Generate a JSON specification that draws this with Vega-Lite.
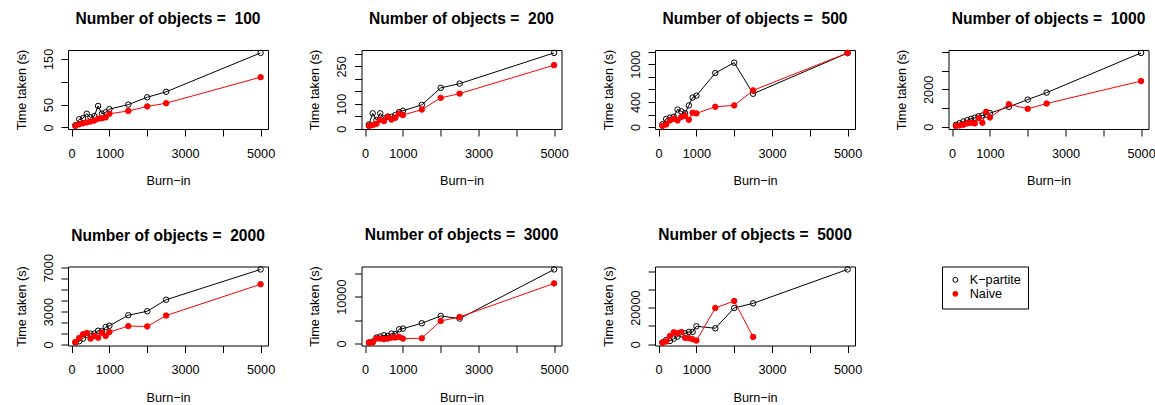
{
  "$schema": "https://vega.github.io/schema/vega-lite/v6.json",
  "autosize": {"type": "pad"},
  "padding": {"left": 14, "top": 11, "right": 0, "bottom": 0},
  "background": "white",
  "datasets": {
    "d": [
      {"objects":100,"burnin":100,"method":"K−partite","time":5},
      {"objects":100,"burnin":200,"method":"K−partite","time":18},
      {"objects":100,"burnin":300,"method":"K−partite","time":20},
      {"objects":100,"burnin":400,"method":"K−partite","time":30},
      {"objects":100,"burnin":500,"method":"K−partite","time":22},
      {"objects":100,"burnin":600,"method":"K−partite","time":25},
      {"objects":100,"burnin":700,"method":"K−partite","time":47},
      {"objects":100,"burnin":800,"method":"K−partite","time":30},
      {"objects":100,"burnin":900,"method":"K−partite","time":33},
      {"objects":100,"burnin":1000,"method":"K−partite","time":40},
      {"objects":100,"burnin":1500,"method":"K−partite","time":50},
      {"objects":100,"burnin":2000,"method":"K−partite","time":66},
      {"objects":100,"burnin":2500,"method":"K−partite","time":78},
      {"objects":100,"burnin":5000,"method":"K−partite","time":163},
      {"objects":100,"burnin":100,"method":"Naive","time":3},
      {"objects":100,"burnin":200,"method":"Naive","time":7},
      {"objects":100,"burnin":300,"method":"Naive","time":9},
      {"objects":100,"burnin":400,"method":"Naive","time":11},
      {"objects":100,"burnin":500,"method":"Naive","time":13},
      {"objects":100,"burnin":600,"method":"Naive","time":15},
      {"objects":100,"burnin":700,"method":"Naive","time":19},
      {"objects":100,"burnin":800,"method":"Naive","time":20},
      {"objects":100,"burnin":900,"method":"Naive","time":22},
      {"objects":100,"burnin":1000,"method":"Naive","time":30},
      {"objects":100,"burnin":1500,"method":"Naive","time":36},
      {"objects":100,"burnin":2000,"method":"Naive","time":46},
      {"objects":100,"burnin":2500,"method":"Naive","time":53},
      {"objects":100,"burnin":5000,"method":"Naive","time":110},

      {"objects":200,"burnin":100,"method":"K−partite","time":17},
      {"objects":200,"burnin":200,"method":"K−partite","time":62},
      {"objects":200,"burnin":300,"method":"K−partite","time":35},
      {"objects":200,"burnin":400,"method":"K−partite","time":62},
      {"objects":200,"burnin":500,"method":"K−partite","time":42},
      {"objects":200,"burnin":600,"method":"K−partite","time":48},
      {"objects":200,"burnin":700,"method":"K−partite","time":48},
      {"objects":200,"burnin":800,"method":"K−partite","time":55},
      {"objects":200,"burnin":900,"method":"K−partite","time":67},
      {"objects":200,"burnin":1000,"method":"K−partite","time":72},
      {"objects":200,"burnin":1500,"method":"K−partite","time":96},
      {"objects":200,"burnin":2000,"method":"K−partite","time":164},
      {"objects":200,"burnin":2500,"method":"K−partite","time":181},
      {"objects":200,"burnin":5000,"method":"K−partite","time":304},
      {"objects":200,"burnin":100,"method":"Naive","time":11},
      {"objects":200,"burnin":200,"method":"Naive","time":15},
      {"objects":200,"burnin":300,"method":"Naive","time":20},
      {"objects":200,"burnin":400,"method":"Naive","time":36},
      {"objects":200,"burnin":500,"method":"Naive","time":31},
      {"objects":200,"burnin":600,"method":"Naive","time":49},
      {"objects":200,"burnin":700,"method":"Naive","time":37},
      {"objects":200,"burnin":800,"method":"Naive","time":44},
      {"objects":200,"burnin":900,"method":"Naive","time":61},
      {"objects":200,"burnin":1000,"method":"Naive","time":55},
      {"objects":200,"burnin":1500,"method":"Naive","time":77},
      {"objects":200,"burnin":2000,"method":"Naive","time":124},
      {"objects":200,"burnin":2500,"method":"Naive","time":141},
      {"objects":200,"burnin":5000,"method":"Naive","time":255},

      {"objects":500,"burnin":100,"method":"K−partite","time":45},
      {"objects":500,"burnin":200,"method":"K−partite","time":130},
      {"objects":500,"burnin":300,"method":"K−partite","time":150},
      {"objects":500,"burnin":400,"method":"K−partite","time":165},
      {"objects":500,"burnin":500,"method":"K−partite","time":280},
      {"objects":500,"burnin":600,"method":"K−partite","time":250},
      {"objects":500,"burnin":700,"method":"K−partite","time":220},
      {"objects":500,"burnin":800,"method":"K−partite","time":345},
      {"objects":500,"burnin":900,"method":"K−partite","time":470},
      {"objects":500,"burnin":1000,"method":"K−partite","time":500},
      {"objects":500,"burnin":1500,"method":"K−partite","time":860},
      {"objects":500,"burnin":2000,"method":"K−partite","time":1025},
      {"objects":500,"burnin":2500,"method":"K−partite","time":530},
      {"objects":500,"burnin":5000,"method":"K−partite","time":1178},
      {"objects":500,"burnin":100,"method":"Naive","time":16},
      {"objects":500,"burnin":200,"method":"Naive","time":42},
      {"objects":500,"burnin":300,"method":"Naive","time":106},
      {"objects":500,"burnin":400,"method":"Naive","time":133},
      {"objects":500,"burnin":500,"method":"Naive","time":106},
      {"objects":500,"burnin":600,"method":"Naive","time":160},
      {"objects":500,"burnin":700,"method":"Naive","time":180},
      {"objects":500,"burnin":800,"method":"Naive","time":117},
      {"objects":500,"burnin":900,"method":"Naive","time":228},
      {"objects":500,"burnin":1000,"method":"Naive","time":218},
      {"objects":500,"burnin":1500,"method":"Naive","time":324},
      {"objects":500,"burnin":2000,"method":"Naive","time":345},
      {"objects":500,"burnin":2500,"method":"Naive","time":584},
      {"objects":500,"burnin":5000,"method":"Naive","time":1180},

      {"objects":1000,"burnin":100,"method":"K−partite","time":100},
      {"objects":1000,"burnin":200,"method":"K−partite","time":190},
      {"objects":1000,"burnin":300,"method":"K−partite","time":280},
      {"objects":1000,"burnin":400,"method":"K−partite","time":350},
      {"objects":1000,"burnin":500,"method":"K−partite","time":420},
      {"objects":1000,"burnin":600,"method":"K−partite","time":480},
      {"objects":1000,"burnin":700,"method":"K−partite","time":560},
      {"objects":1000,"burnin":800,"method":"K−partite","time":600},
      {"objects":1000,"burnin":900,"method":"K−partite","time":650},
      {"objects":1000,"burnin":1000,"method":"K−partite","time":726},
      {"objects":1000,"burnin":1500,"method":"K−partite","time":1062},
      {"objects":1000,"burnin":2000,"method":"K−partite","time":1451},
      {"objects":1000,"burnin":2500,"method":"K−partite","time":1823},
      {"objects":1000,"burnin":5000,"method":"K−partite","time":3947},
      {"objects":1000,"burnin":100,"method":"Naive","time":35},
      {"objects":1000,"burnin":200,"method":"Naive","time":71},
      {"objects":1000,"burnin":300,"method":"Naive","time":106},
      {"objects":1000,"burnin":400,"method":"Naive","time":177},
      {"objects":1000,"burnin":500,"method":"Naive","time":212},
      {"objects":1000,"burnin":600,"method":"Naive","time":177},
      {"objects":1000,"burnin":700,"method":"Naive","time":460},
      {"objects":1000,"burnin":800,"method":"Naive","time":212},
      {"objects":1000,"burnin":900,"method":"Naive","time":796},
      {"objects":1000,"burnin":1000,"method":"Naive","time":496},
      {"objects":1000,"burnin":1500,"method":"Naive","time":1204},
      {"objects":1000,"burnin":2000,"method":"Naive","time":956},
      {"objects":1000,"burnin":2500,"method":"Naive","time":1239},
      {"objects":1000,"burnin":5000,"method":"Naive","time":2442},

      {"objects":2000,"burnin":100,"method":"K−partite","time":180},
      {"objects":2000,"burnin":200,"method":"K−partite","time":300},
      {"objects":2000,"burnin":300,"method":"K−partite","time":540},
      {"objects":2000,"burnin":400,"method":"K−partite","time":900},
      {"objects":2000,"burnin":500,"method":"K−partite","time":990},
      {"objects":2000,"burnin":600,"method":"K−partite","time":1000},
      {"objects":2000,"burnin":700,"method":"K−partite","time":1260},
      {"objects":2000,"burnin":800,"method":"K−partite","time":1200},
      {"objects":2000,"burnin":900,"method":"K−partite","time":1590},
      {"objects":2000,"burnin":1000,"method":"K−partite","time":1710},
      {"objects":2000,"burnin":1500,"method":"K−partite","time":2670},
      {"objects":2000,"burnin":2000,"method":"K−partite","time":3030},
      {"objects":2000,"burnin":2500,"method":"K−partite","time":4080},
      {"objects":2000,"burnin":5000,"method":"K−partite","time":6840},
      {"objects":2000,"burnin":100,"method":"Naive","time":240},
      {"objects":2000,"burnin":200,"method":"Naive","time":600},
      {"objects":2000,"burnin":300,"method":"Naive","time":930},
      {"objects":2000,"burnin":400,"method":"Naive","time":1050},
      {"objects":2000,"burnin":500,"method":"Naive","time":540},
      {"objects":2000,"burnin":600,"method":"Naive","time":780},
      {"objects":2000,"burnin":700,"method":"Naive","time":630},
      {"objects":2000,"burnin":800,"method":"Naive","time":1080},
      {"objects":2000,"burnin":900,"method":"Naive","time":780},
      {"objects":2000,"burnin":1000,"method":"Naive","time":1140},
      {"objects":2000,"burnin":1500,"method":"Naive","time":1680},
      {"objects":2000,"burnin":2000,"method":"Naive","time":1650},
      {"objects":2000,"burnin":2500,"method":"Naive","time":2640},
      {"objects":2000,"burnin":5000,"method":"Naive","time":5490},

      {"objects":3000,"burnin":100,"method":"K−partite","time":210},
      {"objects":3000,"burnin":200,"method":"K−partite","time":430},
      {"objects":3000,"burnin":300,"method":"K−partite","time":1280},
      {"objects":3000,"burnin":400,"method":"K−partite","time":1490},
      {"objects":3000,"burnin":500,"method":"K−partite","time":1770},
      {"objects":3000,"burnin":600,"method":"K−partite","time":1630},
      {"objects":3000,"burnin":700,"method":"K−partite","time":2130},
      {"objects":3000,"burnin":800,"method":"K−partite","time":1990},
      {"objects":3000,"burnin":900,"method":"K−partite","time":3050},
      {"objects":3000,"burnin":1000,"method":"K−partite","time":3190},
      {"objects":3000,"burnin":1500,"method":"K−partite","time":4330},
      {"objects":3000,"burnin":2000,"method":"K−partite","time":5890},
      {"objects":3000,"burnin":2500,"method":"K−partite","time":5320},
      {"objects":3000,"burnin":5000,"method":"K−partite","time":15820},
      {"objects":3000,"burnin":100,"method":"Naive","time":210},
      {"objects":3000,"burnin":200,"method":"Naive","time":210},
      {"objects":3000,"burnin":300,"method":"Naive","time":1060},
      {"objects":3000,"burnin":400,"method":"Naive","time":1060},
      {"objects":3000,"burnin":500,"method":"Naive","time":920},
      {"objects":3000,"burnin":600,"method":"Naive","time":1060},
      {"objects":3000,"burnin":700,"method":"Naive","time":1280},
      {"objects":3000,"burnin":800,"method":"Naive","time":1280},
      {"objects":3000,"burnin":900,"method":"Naive","time":1420},
      {"objects":3000,"burnin":1000,"method":"Naive","time":1060},
      {"objects":3000,"burnin":1500,"method":"Naive","time":1130},
      {"objects":3000,"burnin":2000,"method":"Naive","time":4820},
      {"objects":3000,"burnin":2500,"method":"Naive","time":5670},
      {"objects":3000,"burnin":5000,"method":"Naive","time":12840},

      {"objects":5000,"burnin":100,"method":"K−partite","time":910},
      {"objects":5000,"burnin":200,"method":"K−partite","time":2360},
      {"objects":5000,"burnin":300,"method":"K−partite","time":1820},
      {"objects":5000,"burnin":400,"method":"K−partite","time":3090},
      {"objects":5000,"burnin":500,"method":"K−partite","time":4180},
      {"objects":5000,"burnin":600,"method":"K−partite","time":5450},
      {"objects":5000,"burnin":700,"method":"K−partite","time":6000},
      {"objects":5000,"burnin":800,"method":"K−partite","time":6730},
      {"objects":5000,"burnin":900,"method":"K−partite","time":6730},
      {"objects":5000,"burnin":1000,"method":"K−partite","time":9820},
      {"objects":5000,"burnin":1500,"method":"K−partite","time":8730},
      {"objects":5000,"burnin":2000,"method":"K−partite","time":19820},
      {"objects":5000,"burnin":2500,"method":"K−partite","time":22360},
      {"objects":5000,"burnin":5000,"method":"K−partite","time":40900},
      {"objects":5000,"burnin":100,"method":"Naive","time":900},
      {"objects":5000,"burnin":200,"method":"Naive","time":1500},
      {"objects":5000,"burnin":300,"method":"Naive","time":4500},
      {"objects":5000,"burnin":400,"method":"Naive","time":6500},
      {"objects":5000,"burnin":500,"method":"Naive","time":6000},
      {"objects":5000,"burnin":600,"method":"Naive","time":6700},
      {"objects":5000,"burnin":700,"method":"Naive","time":3500},
      {"objects":5000,"burnin":800,"method":"Naive","time":3300},
      {"objects":5000,"burnin":900,"method":"Naive","time":2700},
      {"objects":5000,"burnin":1000,"method":"Naive","time":2000},
      {"objects":5000,"burnin":1500,"method":"Naive","time":19820},
      {"objects":5000,"burnin":2000,"method":"Naive","time":23640},
      {"objects":5000,"burnin":2500,"method":"Naive","time":4000}
    ]
  },
  "columns": 4,
  "bounds": "flush",
  "spacing": {"row": 137.5, "column": 93.5},
  "resolve": {"legend": {"stroke": "independent", "fill": "independent"}},
  "config": {
    "font": "Liberation Sans",
    "view": {"stroke": "black", "strokeWidth": 1},
    "axis": {
      "domain": false, "grid": false, "tickColor": "black", "tickSize": 7, "tickWidth": 1,
      "labelFont": "Liberation Sans", "labelFontSize": 12.7, "labelColor": "black",
      "labelOverlap": false, "labelFlush": false,
      "titleFont": "Liberation Sans", "titleFontSize": 12.7, "titleFontWeight": "normal", "titleColor": "black"
    },
    "axisX": {"labelPadding": 11, "labelBaseline": "top", "titlePadding": 15},
    "axisY": {"labelAngle": 270, "labelAlign": "center", "labelBaseline": "alphabetic", "labelPadding": 9, "titlePadding": 14},
    "title": {"font": "Liberation Sans", "fontSize": 15.6, "fontWeight": "bold", "color": "black", "anchor": "middle", "frame": "group", "offset": 21},
    "legend": {
      "strokeColor": "black", "padding": 7, "labelFont": "Liberation Sans", "labelFontSize": 12.7, "labelColor": "black",
      "symbolSize": 24, "symbolStrokeWidth": 1, "symbolType": "circle", "rowPadding": 0, "labelOffset": 8
    }
  },
  "concat": [
    {
      "width": 200, "height": 79,
      "title": "Number of objects = \u00a0100",
      "data": {"name": "d"},
      "transform": [{"filter": "datum.objects == 100"}],
      "encoding": {
        "x": {"field": "burnin", "type": "quantitative", "title": "Burn−in", "scale": {"domain": [-96, 5196], "nice": false, "zero": false}, "axis": {"values": [0,1000,2000,3000,4000,5000], "format": "d", "labelExpr": "datum.value == 2000 || datum.value == 4000 ? '' : datum.label"}},
        "y": {"field": "time", "type": "quantitative", "title": "Time taken (s)", "scale": {"domain": [-3.4, 169.4], "nice": false, "zero": false}, "axis": {"values": [0,50,100,150], "format": "d", "labelExpr": "indexof([0,50,150], datum.value) >= 0 ? datum.label : ''"}}
      },
      "layer": [
        {"mark": {"type": "line", "strokeWidth": 1}, "encoding": {"color": {"field": "method", "type": "nominal", "scale": {"domain": ["K−partite", "Naive"], "range": ["black", "red"]}, "legend": null}}},
        {"mark": {"type": "point", "strokeWidth": 1, "opacity": 1}, "encoding": {
          "stroke": {"field": "method", "type": "nominal", "scale": {"domain": ["K−partite", "Naive"], "range": ["black", "red"]}, "legend": null},
          "fill": {"field": "method", "type": "nominal", "scale": {"domain": ["K−partite", "Naive"], "range": ["transparent", "red"]}, "legend": null}}}
      ]
    },
    {
      "width": 200, "height": 79,
      "title": "Number of objects = \u00a0200",
      "data": {"name": "d"},
      "transform": [{"filter": "datum.objects == 200"}],
      "encoding": {
        "x": {"field": "burnin", "type": "quantitative", "title": "Burn−in", "scale": {"domain": [-96, 5196], "nice": false, "zero": false}, "axis": {"values": [0,1000,2000,3000,4000,5000], "format": "d", "labelExpr": "datum.value == 2000 || datum.value == 4000 ? '' : datum.label"}},
        "y": {"field": "time", "type": "quantitative", "title": "Time taken (s)", "scale": {"domain": [-0.7, 315.7], "nice": false, "zero": false}, "axis": {"values": [0,50,100,150,200,250,300], "format": "d", "labelExpr": "indexof([0,100,250], datum.value) >= 0 ? datum.label : ''"}}
      },
      "layer": [
        {"mark": {"type": "line", "strokeWidth": 1}, "encoding": {"color": {"field": "method", "type": "nominal", "scale": {"domain": ["K−partite", "Naive"], "range": ["black", "red"]}, "legend": null}}},
        {"mark": {"type": "point", "strokeWidth": 1, "opacity": 1}, "encoding": {
          "stroke": {"field": "method", "type": "nominal", "scale": {"domain": ["K−partite", "Naive"], "range": ["black", "red"]}, "legend": null},
          "fill": {"field": "method", "type": "nominal", "scale": {"domain": ["K−partite", "Naive"], "range": ["transparent", "red"]}, "legend": null}}}
      ]
    },
    {
      "width": 200, "height": 79,
      "title": "Number of objects = \u00a0500",
      "data": {"name": "d"},
      "transform": [{"filter": "datum.objects == 500"}],
      "encoding": {
        "x": {"field": "burnin", "type": "quantitative", "title": "Burn−in", "scale": {"domain": [-96, 5196], "nice": false, "zero": false}, "axis": {"values": [0,1000,2000,3000,4000,5000], "format": "d", "labelExpr": "datum.value == 2000 || datum.value == 4000 ? '' : datum.label"}},
        "y": {"field": "time", "type": "quantitative", "title": "Time taken (s)", "scale": {"domain": [-30.6, 1226.6], "nice": false, "zero": false}, "axis": {"values": [0,200,400,600,800,1000,1200], "format": "d", "labelExpr": "indexof([0,400,1000], datum.value) >= 0 ? datum.label : ''"}}
      },
      "layer": [
        {"mark": {"type": "line", "strokeWidth": 1}, "encoding": {"color": {"field": "method", "type": "nominal", "scale": {"domain": ["K−partite", "Naive"], "range": ["black", "red"]}, "legend": null}}},
        {"mark": {"type": "point", "strokeWidth": 1, "opacity": 1}, "encoding": {
          "stroke": {"field": "method", "type": "nominal", "scale": {"domain": ["K−partite", "Naive"], "range": ["black", "red"]}, "legend": null},
          "fill": {"field": "method", "type": "nominal", "scale": {"domain": ["K−partite", "Naive"], "range": ["transparent", "red"]}, "legend": null}}}
      ]
    },
    {
      "width": 200, "height": 79,
      "title": "Number of objects = \u00a01000",
      "data": {"name": "d"},
      "transform": [{"filter": "datum.objects == 1000"}],
      "encoding": {
        "x": {"field": "burnin", "type": "quantitative", "title": "Burn−in", "scale": {"domain": [-96, 5196], "nice": false, "zero": false}, "axis": {"values": [0,1000,2000,3000,4000,5000], "format": "d", "labelExpr": "datum.value == 2000 || datum.value == 4000 ? '' : datum.label"}},
        "y": {"field": "time", "type": "quantitative", "title": "Time taken (s)", "scale": {"domain": [-121.5, 4103.5], "nice": false, "zero": false}, "axis": {"values": [0,1000,2000,3000,4000], "format": "d", "labelExpr": "indexof([0,2000], datum.value) >= 0 ? datum.label : ''"}}
      },
      "layer": [
        {"mark": {"type": "line", "strokeWidth": 1}, "encoding": {"color": {"field": "method", "type": "nominal", "scale": {"domain": ["K−partite", "Naive"], "range": ["black", "red"]}, "legend": null}}},
        {"mark": {"type": "point", "strokeWidth": 1, "opacity": 1}, "encoding": {
          "stroke": {"field": "method", "type": "nominal", "scale": {"domain": ["K−partite", "Naive"], "range": ["black", "red"]}, "legend": null},
          "fill": {"field": "method", "type": "nominal", "scale": {"domain": ["K−partite", "Naive"], "range": ["transparent", "red"]}, "legend": null}}}
      ]
    },
    {
      "width": 200, "height": 79,
      "title": {"text": "Number of objects = \u00a02000", "dy": 12.2},
      "data": {"name": "d"},
      "transform": [{"filter": "datum.objects == 2000"}],
      "encoding": {
        "x": {"field": "burnin", "type": "quantitative", "title": "Burn−in", "scale": {"domain": [-96, 5196], "nice": false, "zero": false}, "axis": {"values": [0,1000,2000,3000,4000,5000], "format": "d", "labelExpr": "datum.value == 2000 || datum.value == 4000 ? '' : datum.label"}},
        "y": {"field": "time", "type": "quantitative", "title": "Time taken (s)", "scale": {"domain": [-86.4, 7106.4], "nice": false, "zero": false}, "axis": {"values": [0,1000,2000,3000,4000,5000,6000,7000], "format": "d", "labelExpr": "indexof([0,3000,7000], datum.value) >= 0 ? datum.label : ''"}}
      },
      "layer": [
        {"mark": {"type": "line", "strokeWidth": 1}, "encoding": {"color": {"field": "method", "type": "nominal", "scale": {"domain": ["K−partite", "Naive"], "range": ["black", "red"]}, "legend": null}}},
        {"mark": {"type": "point", "strokeWidth": 1, "opacity": 1}, "encoding": {
          "stroke": {"field": "method", "type": "nominal", "scale": {"domain": ["K−partite", "Naive"], "range": ["black", "red"]}, "legend": null},
          "fill": {"field": "method", "type": "nominal", "scale": {"domain": ["K−partite", "Naive"], "range": ["transparent", "red"]}, "legend": null}}}
      ]
    },
    {
      "width": 200, "height": 79,
      "title": "Number of objects = \u00a03000",
      "data": {"name": "d"},
      "transform": [{"filter": "datum.objects == 3000"}],
      "encoding": {
        "x": {"field": "burnin", "type": "quantitative", "title": "Burn−in", "scale": {"domain": [-96, 5196], "nice": false, "zero": false}, "axis": {"values": [0,1000,2000,3000,4000,5000], "format": "d", "labelExpr": "datum.value == 2000 || datum.value == 4000 ? '' : datum.label"}},
        "y": {"field": "time", "type": "quantitative", "title": "Time taken (s)", "scale": {"domain": [-414.4, 16444.4], "nice": false, "zero": false}, "axis": {"values": [0,5000,10000,15000], "format": "d", "labelExpr": "indexof([0,10000], datum.value) >= 0 ? datum.label : ''"}}
      },
      "layer": [
        {"mark": {"type": "line", "strokeWidth": 1}, "encoding": {"color": {"field": "method", "type": "nominal", "scale": {"domain": ["K−partite", "Naive"], "range": ["black", "red"]}, "legend": null}}},
        {"mark": {"type": "point", "strokeWidth": 1, "opacity": 1}, "encoding": {
          "stroke": {"field": "method", "type": "nominal", "scale": {"domain": ["K−partite", "Naive"], "range": ["black", "red"]}, "legend": null},
          "fill": {"field": "method", "type": "nominal", "scale": {"domain": ["K−partite", "Naive"], "range": ["transparent", "red"]}, "legend": null}}}
      ]
    },
    {
      "width": 200, "height": 79,
      "title": "Number of objects = \u00a05000",
      "data": {"name": "d"},
      "transform": [{"filter": "datum.objects == 5000"}],
      "encoding": {
        "x": {"field": "burnin", "type": "quantitative", "title": "Burn−in", "scale": {"domain": [-96, 5196], "nice": false, "zero": false}, "axis": {"values": [0,1000,2000,3000,4000,5000], "format": "d", "labelExpr": "datum.value == 2000 || datum.value == 4000 ? '' : datum.label"}},
        "y": {"field": "time", "type": "quantitative", "title": "Time taken (s)", "scale": {"domain": [-700, 42500], "nice": false, "zero": false}, "axis": {"values": [0,10000,20000,30000,40000], "format": "d", "labelExpr": "indexof([0,20000], datum.value) >= 0 ? datum.label : ''"}}
      },
      "layer": [
        {"mark": {"type": "line", "strokeWidth": 1}, "encoding": {"color": {"field": "method", "type": "nominal", "scale": {"domain": ["K−partite", "Naive"], "range": ["black", "red"]}, "legend": null}}},
        {"mark": {"type": "point", "strokeWidth": 1, "opacity": 1}, "encoding": {
          "stroke": {"field": "method", "type": "nominal", "scale": {"domain": ["K−partite", "Naive"], "range": ["black", "red"]}, "legend": {"orient": "none", "legendX": 287, "legendY": 0, "title": null}},
          "fill": {"field": "method", "type": "nominal", "scale": {"domain": ["K−partite", "Naive"], "range": ["transparent", "red"]}, "legend": {"orient": "none", "legendX": 287, "legendY": 0, "title": null}}}}
      ]
    }
  ]
}
